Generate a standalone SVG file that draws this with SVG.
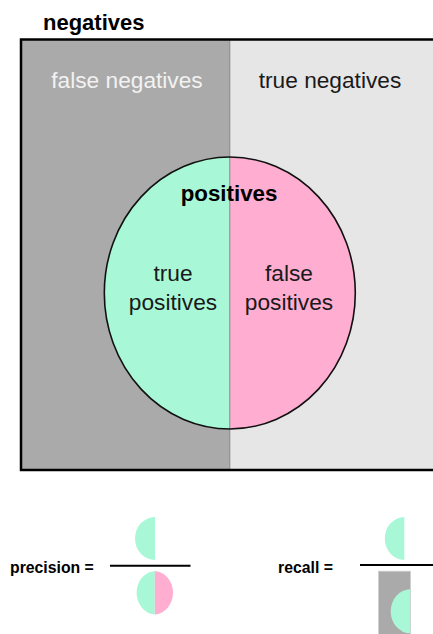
<svg xmlns="http://www.w3.org/2000/svg" width="433" height="634" viewBox="0 0 433 634">
<style>
text{font-family:"Liberation Sans",Arial,Helvetica,sans-serif}
.b{font-weight:bold;fill:#000}
.l{font-size:22.7px;fill:#1a1a1a;text-anchor:middle}
.g{fill:#a8f8d7}
.p{fill:#ffadd0}
</style>
<rect width="433" height="634" fill="#fff"/>
<g id="negatives">
<rect x="21" y="39.5" width="209" height="430.5" fill="#aaaaaa"/>
<rect x="230" y="39.5" width="220" height="430.5" fill="#e6e6e6"/>
<line x1="229.8" y1="39.5" x2="229.8" y2="470" stroke="#8c8c8c" stroke-width="1"/>
<rect x="21" y="39.5" width="430" height="430.5" fill="none" stroke="#000" stroke-width="2.5"/>
<text class="b" x="43" y="30" font-size="22">negatives</text>
<text class="l" x="127" y="87.5" style="fill:#f2f2f2">false negatives</text>
<text class="l" x="330" y="87.5">true negatives</text>
</g>
<g id="positives">
<path class="g" d="M229.8,157 A126,136 0 0 0 229.8,429 Z"/>
<path class="p" d="M229.8,157 A126,136 0 0 1 229.8,429 Z"/>
<line x1="229.8" y1="157" x2="229.8" y2="429" stroke="#8c8c8c" stroke-width="1"/>
<ellipse cx="229.8" cy="293" rx="125.5" ry="136" fill="none" stroke="#111" stroke-width="1.6"/>
<text class="b" x="229" y="201" font-size="22.3" text-anchor="middle">positives</text>
<text class="l" x="173" y="281">true</text>
<text class="l" x="173" y="310">positives</text>
<text class="l" x="289" y="281">false</text>
<text class="l" x="289" y="310">positives</text>
</g>
<g id="precision">
<text class="b" x="10" y="573" font-size="15.8">precision =</text>
<line x1="110" y1="565.7" x2="190.5" y2="565.7" stroke="#000" stroke-width="2"/>
<path class="g" d="M155,517 A20,21.5 0 0 0 155,560 Z"/>
<path class="g" d="M154.8,571 A19.5,21.8 0 0 0 154.8,614.5 Z"/>
<path class="p" d="M154.8,571 A19.5,21.8 0 0 1 154.8,614.5 Z"/>
</g>
<g id="recall">
<text class="b" x="278" y="573" font-size="15.8">recall =</text>
<line x1="360" y1="565" x2="440" y2="565" stroke="#000" stroke-width="2"/>
<path class="g" d="M404.3,517 A19.5,21.5 0 0 0 404.3,560 Z"/>
<rect x="378.5" y="571.2" width="32" height="70" fill="#aaaaaa" stroke="#cfcfcf" stroke-width="0.8"/>
<path class="g" d="M410.2,589.3 A19.5,22 0 0 0 410.2,633.3 Z"/>
</g>
</svg>
